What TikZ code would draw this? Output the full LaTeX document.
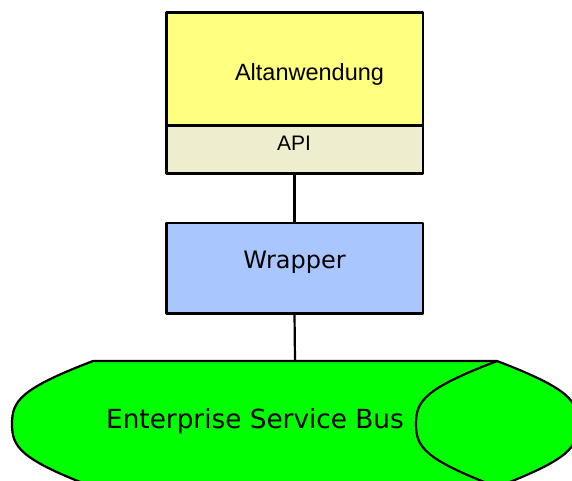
\documentclass[tikz,border=0pt]{standalone}
\usepackage{fontspec}
\setmainfont{Liberation Sans}
\newfontfamily\dejavu{DejaVu Sans}
\definecolor{altyellow}{RGB}{255,255,128}
\definecolor{apibeige}{RGB}{238,238,206}
\definecolor{wrapblue}{RGB}{170,198,255}
\definecolor{busgreen}{RGB}{0,255,0}
\begin{document}
\begin{tikzpicture}[x=1pt,y=-1pt,
  boxstyle/.style={draw=black,line width=2.5pt,line join=round,rectangle,inner sep=0pt,outer sep=0pt},
  conn/.style={draw=black,line width=2.2pt},
  lbl/.style={anchor=base,inner sep=0pt}]
\useasboundingbox (0,0) rectangle (572,480);
% Altanwendung
\node[boxstyle,fill=altyellow,minimum width=256.5pt,minimum height=113pt] (alt) at (294.5,69) {};
\node[boxstyle,fill=apibeige,minimum width=256.5pt,minimum height=48pt,anchor=north] (api) at (alt.south) {};
\node[lbl,font=\fontsize{23.5}{26}\selectfont] (alttxt) at (309.5,80) {Altanwendung};
\node[lbl,font=\fontsize{21}{24}\selectfont] (apitxt) at (294,150) {API};
% Wrapper
\node[boxstyle,fill=wrapblue,minimum width=256.5pt,minimum height=90.5pt] (wrap) at (294.5,268) {};
\node[lbl,font=\dejavu\fontsize{24}{27}\selectfont] (wraptxt) at (294.5,268) {Wrapper};
% Bus
\coordinate (bustop) at (295,361);
\path[fill=busgreen,draw=black,line width=2.2pt,line join=round]
  (93,361) -- (497,361)
  .. controls (570,389) and (578,401) .. (578,424)
  .. controls (578,447) and (570,459) .. (497,487)
  -- (93,487)
  .. controls (20,459) and (12,447) .. (12,424)
  .. controls (12,401) and (20,389) .. (93,361) -- cycle;
\draw[black,line width=2.2pt]
  (497,361) .. controls (424,389) and (416,401) .. (416,424)
  .. controls (416,447) and (424,459) .. (497,487);
\node[lbl,font=\dejavu\fontsize{26.3}{29}\selectfont] (bustxt) at (255,428) {Enterprise Service Bus};
% connectors
\draw[conn] (api.south) -- (wrap.north);
\draw[conn] (wrap.south) -- (bustop);
\end{tikzpicture}
\end{document}
